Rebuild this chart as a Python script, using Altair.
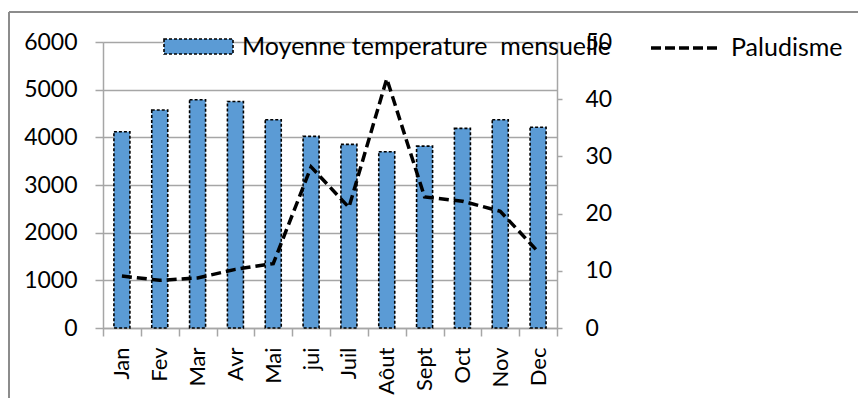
import altair as alt
import pandas as pd

mois = ["Jan", "Fev", "Mar", "Avr", "Mai", "jui", "Juil", "Aôut", "Sept", "Oct", "Nov", "Dec"]
temperature = [34.3, 38.1, 39.9, 39.6, 36.4, 33.5, 32.1, 30.8, 31.8, 34.9, 36.4, 35.1]
paludisme = [1090, 1000, 1050, 1230, 1350, 3380, 2530, 5230, 2750, 2660, 2450, 1600]
serie_barres = "Moyenne temperature \u00a0mensuelle"
serie_ligne = "Paludisme"

df = pd.DataFrame({
    "mois": mois,
    "temperature": temperature,
    "paludisme": paludisme,
    "s1": [serie_barres] * len(mois),
    "s2": [serie_ligne] * len(mois),
})

FONT = "Lato"
FS_NUM = 23
FS_TXT = 25
FS_X = 22
GRID = "#A6A6A6"

W, H = 454, 286
PL, PT = 95, 34
PR, PB = 850 - PL - W, 390 - PT - H

xenc = alt.X("mois:N", sort=mois, title=None,
             scale=alt.Scale(paddingInner=0, paddingOuter=0),
             axis=alt.Axis(labelAngle=-90, tickBand="extent", tickSize=8, tickColor=GRID,
                           tickWidth=1.5, domainColor=GRID, domainWidth=1.5,
                           labelFont=FONT, labelFontSize=FS_X, labelColor="black",
                           labelPadding=11, grid=False))

rect_path = "M-1,-0.217H1V0.217H-1Z"

bars = alt.Chart(df).mark_bar(size=16, stroke="black", strokeWidth=1.6, strokeDash=[3, 2]).encode(
    x=xenc,
    y=alt.Y("temperature:Q", title=None,
            scale=alt.Scale(domain=[0, 50], nice=False),
            axis=alt.Axis(orient="right", values=[0, 10, 20, 30, 40, 50], grid=False,
                          format="d",
                          tickSize=5, tickColor=GRID, tickWidth=1.5, domainColor=GRID,
                          domainWidth=1.5, labelFont=FONT, labelFontSize=FS_NUM,
                          labelColor="black", labelPadding=23)),
    fill=alt.Fill("s1:N", scale=alt.Scale(range=["#5B9BD5"]),
                  legend=alt.Legend(title=None, orient="none", legendX=60, legendY=-31,
                                    symbolType=rect_path, symbolSize=4761,
                                    symbolStrokeColor="black", symbolStrokeWidth=1.6,
                                    symbolDash=[3, 2], labelFont=FONT, labelFontSize=FS_TXT,
                                    labelColor="black", labelOffset=8, labelLimit=600)),
)

line = alt.Chart(df).mark_line(strokeWidth=3.5, strokeDash=[10, 5]).encode(
    x=alt.X("mois:N", sort=mois),
    y=alt.Y("paludisme:Q", title=None,
            scale=alt.Scale(domain=[0, 6000], nice=False),
            axis=alt.Axis(orient="left", values=[0, 1000, 2000, 3000, 4000, 5000, 6000],
                          format="d",
                          grid=True, gridColor=GRID, gridWidth=1.5,
                          tickSize=8, tickColor=GRID, tickWidth=1.5, domainColor=GRID,
                          domainWidth=1.5, labelFont=FONT, labelFontSize=FS_NUM,
                          labelColor="black", labelPadding=18)),
    stroke=alt.Stroke("s2:N", scale=alt.Scale(range=["black"]),
                      legend=alt.Legend(title=None, orient="none", legendX=546, legendY=-31,
                                        symbolType="stroke", symbolSize=4900,
                                        symbolStrokeWidth=3.5, symbolDash=[10, 4],
                                        symbolStrokeColor="black",
                                        labelFont=FONT, labelFontSize=FS_TXT,
                                        labelColor="black", labelOffset=8, labelLimit=300)),
)

frame_top = alt.Chart(df).mark_rule(color="#8C8C8C", strokeWidth=1.5).encode(
    x=alt.value(-94), x2=alt.value(W + PR + 10), y=alt.value(-30))
frame_left = alt.Chart(df).mark_rule(color="#8C8C8C", strokeWidth=1.5).encode(
    x=alt.value(-94), y=alt.value(-30), y2=alt.value(H + PB + 10))

chart = alt.layer(bars, line, frame_top, frame_left).resolve_scale(
    y="independent", fill="independent", stroke="independent"
).properties(
    width=W, height=H,
    autosize=alt.AutoSizeParams(type="none"),
    padding={"left": PL, "top": PT, "right": PR, "bottom": PB},
).configure_view(stroke=None).configure(background="white")

chart.save("out.html", embed_options={"renderer": "svg", "actions": False})
